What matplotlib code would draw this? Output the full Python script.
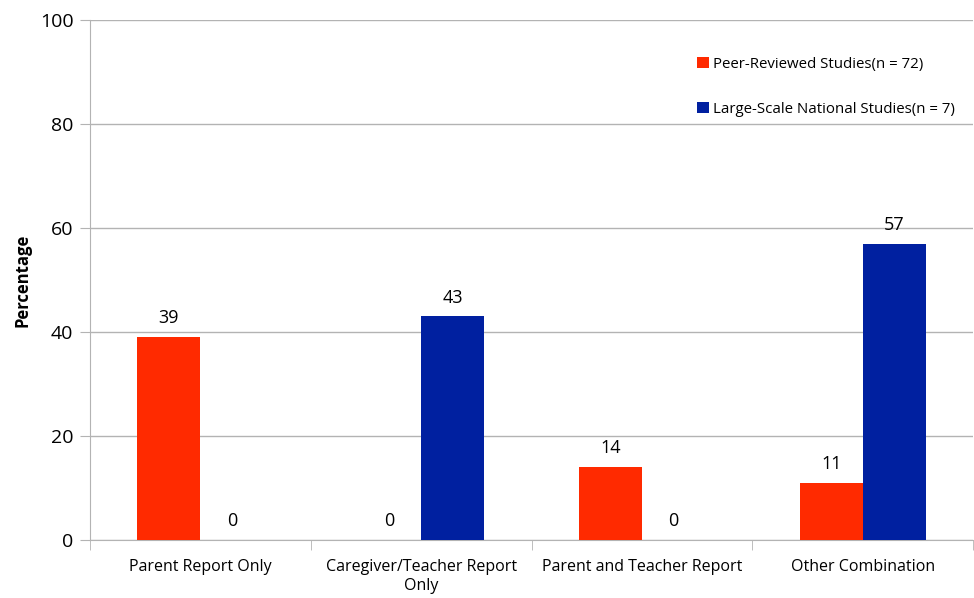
import matplotlib.pyplot as plt
import numpy as np

plt.rcParams['font.family'] = ['Open Sans', 'DejaVu Sans']

categories = ['Parent Report Only', 'Caregiver/Teacher Report\nOnly',
              'Parent and Teacher Report', 'Other Combination']
peer = [39, 0, 14, 11]
national = [0, 43, 0, 57]
series_names = ['Peer-Reviewed Studies(n = 72)', 'Large-Scale National Studies(n = 7)']
red = '#ff2a00'
blue = '#0020a0'
grid_c = '#b3b3b3'

fig = plt.figure(figsize=(9.74, 5.98), dpi=100)
ax = fig.add_axes([90/974, 1-540/598, 883/974, 520/598])

x = np.arange(len(categories))
w = 0.285
b1 = ax.bar(x - w/2, peer, w, color=red, label=series_names[0], zorder=3)
b2 = ax.bar(x + w/2, national, w, color=blue, label=series_names[1], zorder=3)

for bars in (b1, b2):
    for r in bars:
        h = r.get_height()
        ax.annotate(f'{h:g}', (r.get_x() + r.get_width()/2, h),
                    xytext=(0, 7), textcoords='offset points',
                    ha='center', va='bottom', fontsize=13)

ax.set_xlim(-0.5, len(categories) - 0.5)
ax.set_ylim(0, 100)
ax.set_yticks(range(0, 101, 20))
ax.yaxis.grid(True, color=grid_c, linewidth=1, zorder=0)
ax.set_xticks(x)
ax.set_xticklabels(categories, fontsize=11.5)
ax.set_xticks(np.arange(-0.5, len(categories)), minor=True)
ax.tick_params(axis='x', which='major', length=0, pad=14)
ax.tick_params(axis='x', which='minor', length=7, color=grid_c)
ax.tick_params(axis='y', length=7, color=grid_c, labelsize=14, pad=5)
for s in ('top', 'right'):
    ax.spines[s].set_visible(False)
for s in ('left', 'bottom'):
    ax.spines[s].set_color(grid_c)

ax.set_ylabel('Percentage', fontsize=12, fontweight='bold', labelpad=6)

ax.legend(loc='upper left', bbox_to_anchor=(0.672, 0.955), frameon=False,
          handlelength=0.8, handleheight=0.8, handletextpad=0.3,
          labelspacing=2.0, fontsize=10.8)

fig.savefig('out.png', dpi=100)
